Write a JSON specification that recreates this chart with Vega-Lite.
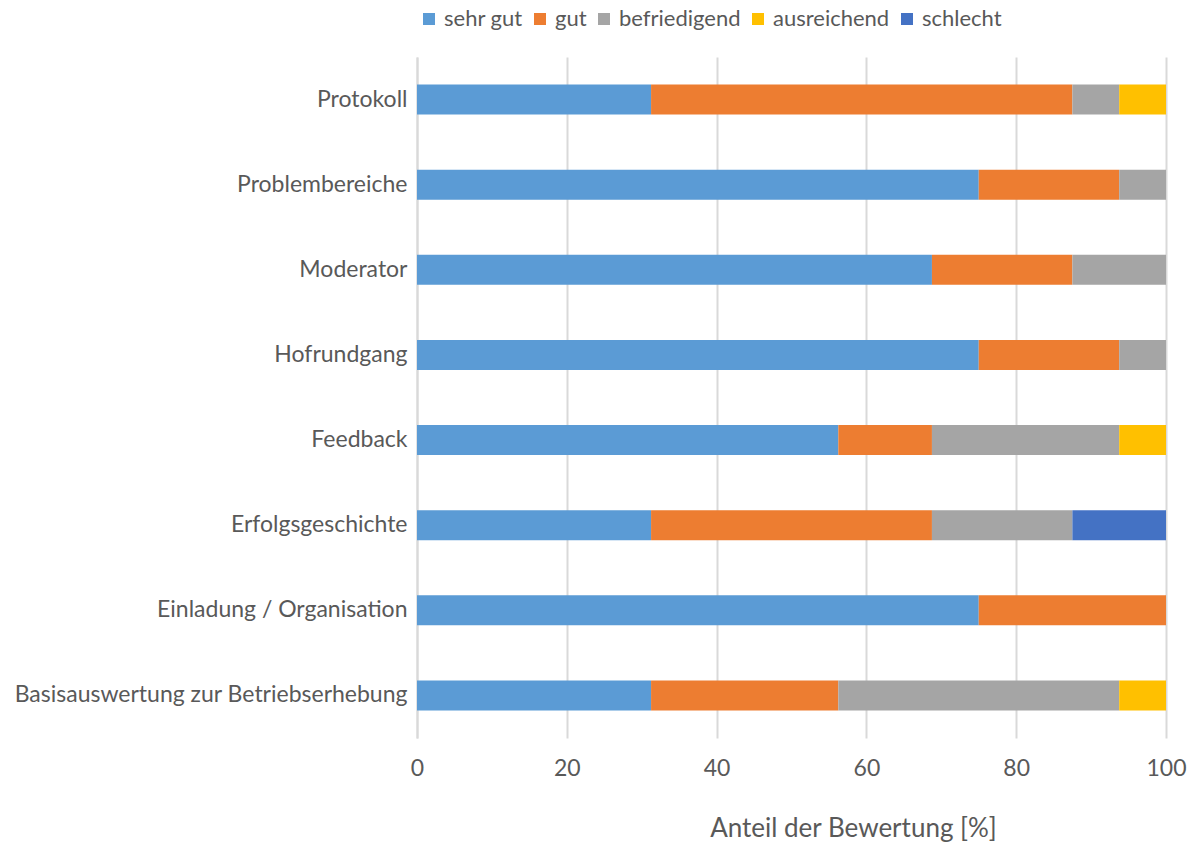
{
  "$schema": "https://vega.github.io/schema/vega-lite/v6.json",
  "autosize": {"type": "none"},
  "padding": {"left": 417, "top": 57, "right": 30, "bottom": 105},
  "width": 749,
  "height": 681,
  "background": "white",
  "config": {
    "font": "Lato",
    "view": {"stroke": null},
    "axis": {"labelColor": "#595959", "titleColor": "#595959", "labelFontSize": 23, "titleFontSize": 26, "titleFontWeight": "normal"},
    "legend": {"labelColor": "#595959", "labelFontSize": 22}
  },
  "data": {
    "values": [
      {"item": "Protokoll", "rating": "sehr gut", "pct": 31.25},
      {"item": "Protokoll", "rating": "gut", "pct": 56.25},
      {"item": "Protokoll", "rating": "befriedigend", "pct": 6.25},
      {"item": "Protokoll", "rating": "ausreichend", "pct": 6.25},
      {"item": "Problembereiche", "rating": "sehr gut", "pct": 75},
      {"item": "Problembereiche", "rating": "gut", "pct": 18.75},
      {"item": "Problembereiche", "rating": "befriedigend", "pct": 6.25},
      {"item": "Moderator", "rating": "sehr gut", "pct": 68.75},
      {"item": "Moderator", "rating": "gut", "pct": 18.75},
      {"item": "Moderator", "rating": "befriedigend", "pct": 12.5},
      {"item": "Hofrundgang", "rating": "sehr gut", "pct": 75},
      {"item": "Hofrundgang", "rating": "gut", "pct": 18.75},
      {"item": "Hofrundgang", "rating": "befriedigend", "pct": 6.25},
      {"item": "Feedback", "rating": "sehr gut", "pct": 56.25},
      {"item": "Feedback", "rating": "gut", "pct": 12.5},
      {"item": "Feedback", "rating": "befriedigend", "pct": 25},
      {"item": "Feedback", "rating": "ausreichend", "pct": 6.25},
      {"item": "Erfolgsgeschichte", "rating": "sehr gut", "pct": 31.25},
      {"item": "Erfolgsgeschichte", "rating": "gut", "pct": 37.5},
      {"item": "Erfolgsgeschichte", "rating": "befriedigend", "pct": 18.75},
      {"item": "Erfolgsgeschichte", "rating": "schlecht", "pct": 12.5},
      {"item": "Einladung / Organisation", "rating": "sehr gut", "pct": 75},
      {"item": "Einladung / Organisation", "rating": "gut", "pct": 25},
      {"item": "Basisauswertung zur Betriebserhebung", "rating": "sehr gut", "pct": 31.25},
      {"item": "Basisauswertung zur Betriebserhebung", "rating": "gut", "pct": 25},
      {"item": "Basisauswertung zur Betriebserhebung", "rating": "befriedigend", "pct": 37.5},
      {"item": "Basisauswertung zur Betriebserhebung", "rating": "ausreichend", "pct": 6.25}
    ]
  },
  "transform": [
    {"calculate": "indexof(['sehr gut', 'gut', 'befriedigend', 'ausreichend', 'schlecht'], datum.rating)", "as": "stackOrder"}
  ],
  "mark": {"type": "bar"},
  "encoding": {
    "y": {
      "field": "item",
      "type": "nominal",
      "sort": ["Protokoll", "Problembereiche", "Moderator", "Hofrundgang", "Feedback", "Erfolgsgeschichte", "Einladung / Organisation", "Basisauswertung zur Betriebserhebung"],
      "scale": {"paddingInner": 0.647, "paddingOuter": 0.3235},
      "axis": {"title": null, "ticks": false, "domain": true, "domainColor": "#D9D9D9", "domainWidth": 2, "labelPadding": 10, "labelLimit": 500}
    },
    "x": {
      "field": "pct",
      "type": "quantitative",
      "stack": "zero",
      "scale": {"domain": [0, 100], "nice": false},
      "axis": {"title": "Anteil der Bewertung [%]", "titleX": 436, "titleAlign": "center", "values": [0, 20, 40, 60, 80, 100], "labelFlush": false, "grid": true, "gridColor": "#D9D9D9", "gridWidth": 2, "domain": false, "ticks": false, "labelPadding": 19, "titlePadding": 35}
    },
    "order": {"field": "stackOrder", "type": "quantitative", "sort": "ascending"},
    "color": {
      "field": "rating",
      "type": "nominal",
      "scale": {"domain": ["sehr gut", "gut", "befriedigend", "ausreichend", "schlecht"], "range": ["#5B9BD5", "#ED7D31", "#A5A5A5", "#FFC000", "#4472C4"]},
      "legend": {"title": null, "orient": "none", "direction": "horizontal", "legendX": 1, "legendY": -49, "symbolType": "square", "symbolSize": 144, "symbolStrokeWidth": 0, "symbolOpacity": 1, "labelOffset": 4, "columnPadding": 6}
    }
  }
}
